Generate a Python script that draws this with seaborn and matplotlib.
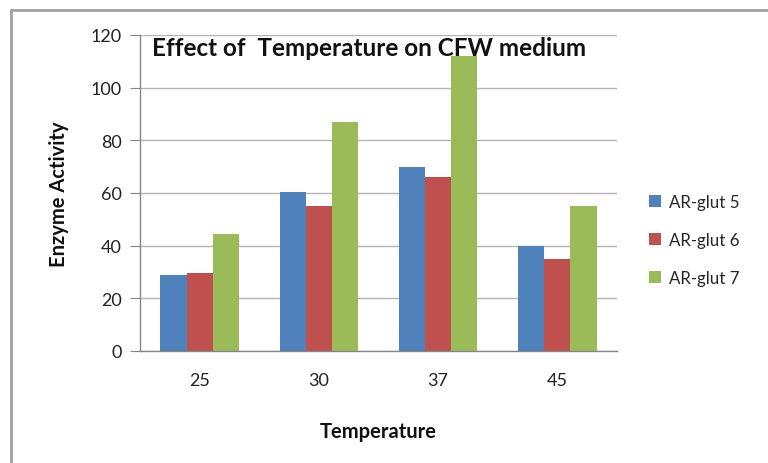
import matplotlib
matplotlib.use("Agg")
import matplotlib.pyplot as plt
import seaborn as sns
import pandas as pd
from matplotlib.patches import Patch

temperatures = ["25", "30", "37", "45"]
series_names = ["AR-glut 5", "AR-glut 6", "AR-glut 7"]
ar_glut5 = [29, 60.5, 70, 40]
ar_glut6 = [29.5, 55, 66, 35]
ar_glut7 = [44.5, 87, 112, 55]
colors = ["#4F81BD", "#C0504D", "#9BBB59"]

rows = []
for name, vals in zip(series_names, [ar_glut5, ar_glut6, ar_glut7]):
    for t, v in zip(temperatures, vals):
        rows.append({"Temperature": t, "Series": name, "Value": v})
df = pd.DataFrame(rows)

sns.set_style("white")
plt.rcParams['font.family'] = ['Lato', 'DejaVu Sans']

W, H = 768, 464
fig = plt.figure(figsize=(W / 100, H / 100), dpi=100)
ax = fig.add_axes([140 / W, 1 - 352 / H, (617 - 140) / W, (352 - 36) / H])

sns.barplot(data=df, x="Temperature", y="Value", hue="Series",
            order=temperatures, hue_order=series_names,
            palette=colors, width=0.66, linewidth=0, saturation=1,
            ax=ax, legend=False)

ax.set_ylim(0, 120)
ax.set_xlim(-0.5, 3.5)
ax.set_yticks(range(0, 121, 20))
ax.yaxis.grid(True, color="#B4B4B4", linewidth=1)
ax.set_axisbelow(True)
for s in ["top", "right"]:
    ax.spines[s].set_visible(False)
for s in ["left", "bottom"]:
    ax.spines[s].set_color("#868686")
    ax.spines[s].set_linewidth(1)

ax.set_xticks([0, 1, 2, 3])
ax.set_xticklabels(temperatures)
ax.tick_params(axis="x", length=0, pad=15, labelsize=13, colors="#222222")
ax.set_xticks([-0.5, 0.5, 1.5, 2.5, 3.5], minor=True)
ax.tick_params(axis="x", which="minor", length=7, color="#868686", direction="out")
ax.tick_params(axis="y", length=7, direction="out", labelsize=13,
               colors="#868686", labelcolor="#222222", left=True, pad=6)

ax.set_xlabel("Temperature", fontsize=14.5, fontweight="bold", labelpad=24, color="#111111")
ax.set_ylabel("Enzyme Activity", fontsize=14.5, fontweight="bold", labelpad=16, color="#111111")

fig.text(152 / W, 1 - 48 / H, "Effect of  Temperature on CFW medium",
         fontsize=17.5, fontweight="bold", va="center", ha="left", color="#111111")

handles = [Patch(facecolor=c, edgecolor="none") for c in colors]
fig.legend(handles, series_names, loc="center left",
           bbox_to_anchor=(634 / W, 1 - 241 / H), frameon=False,
           fontsize=12.2, handlelength=0.7, handleheight=0.7,
           handletextpad=0.45, labelspacing=1.3)

# outer chart border (left and top lines)
fig.add_artist(plt.Line2D([11 / W, 11 / W], [0, 1 - 11 / H], transform=fig.transFigure,
                          color="#A0A0A0", linewidth=2))
fig.add_artist(plt.Line2D([11 / W, 1], [1 - 11 / H, 1 - 11 / H], transform=fig.transFigure,
                          color="#A0A0A0", linewidth=2))

fig.savefig("out.png", dpi=100)
